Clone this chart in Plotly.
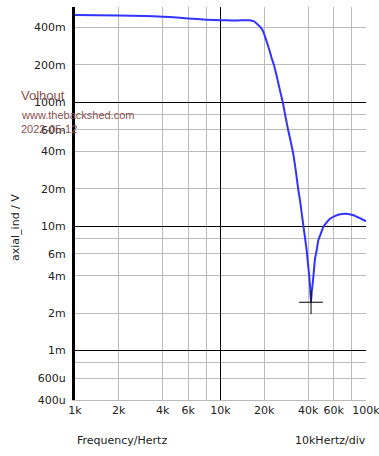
import math
import plotly.graph_objects as go

# ---- data ----
freq_hz = [1000, 2000, 3000, 4000, 5000, 6000, 8000, 10000, 12000, 14000, 15900,
           17000, 17700, 18700, 19700, 20800, 21700, 22500, 23300, 24400, 25600,
           26800, 28000, 29200, 30400, 31600, 33000, 34300, 35200, 36000, 37100,
           38100, 39100, 40000, 40800, 41400, 41900, 42400, 43000, 43800, 44600,
           45800, 47000, 49000, 50900, 53500, 56600, 61000, 66300, 75500, 82000,
           90000, 100000]
axial_ind_v = [0.503, 0.499, 0.494, 0.488, 0.480, 0.472, 0.462, 0.457, 0.455, 0.456, 0.457,
               0.447, 0.431, 0.405, 0.369, 0.306, 0.262, 0.225, 0.199, 0.160, 0.125,
               0.100, 0.076, 0.0594, 0.048, 0.0386, 0.0275, 0.0195, 0.0162, 0.0132, 0.0102,
               0.0081, 0.0064, 0.0049, 0.0039, 0.0031, 0.00245, 0.0030, 0.00345, 0.00433, 0.00549,
               0.0064, 0.00774, 0.0088, 0.00987, 0.0107, 0.0115, 0.0121, 0.0125, 0.0126, 0.0123,
               0.0117, 0.0110]

cursor_f = [41900]
cursor_v = [0.00245]

x_tickvals = [1e3, 2e3, 4e3, 6e3, 8e3, 1e4, 2e4, 4e4, 6e4, 8e4, 1e5]
x_ticktext = ["1k", "2k", "4k", "6k", "", "10k", "20k", "40k", "60k", "", "100k"]
y_tickvals = [4e-4, 6e-4, 8e-4, 1e-3, 2e-3, 4e-3, 6e-3, 8e-3, 1e-2, 2e-2, 4e-2, 6e-2, 8e-2, 0.1, 0.2, 0.4]
y_ticktext = ["400u", "600u", "", "1m", "2m", "4m", "6m", "", "10m", "20m", "40m", "60m", "", "100m", "200m", "400m"]
x_decades = [1e3, 1e4, 1e5]
y_decades = [1e-3, 1e-2, 1e-1]

x_range = [1e3, 1e5]
y_range = [4e-4, 0.584]
xr = [math.log10(x_range[0]), math.log10(x_range[1])]
yr = [math.log10(y_range[0]), math.log10(y_range[1])]

fig = go.Figure()
fig.add_trace(go.Scatter(x=freq_hz, y=axial_ind_v, mode="lines",
                         line=dict(color="#3333ff", width=2, shape="spline", smoothing=0.3),
                         hoverinfo="skip", showlegend=False))
fig.add_trace(go.Scatter(x=cursor_f, y=cursor_v, mode="markers", xaxis="x2", yaxis="y2",
                         marker=dict(symbol="cross-thin", size=17, line=dict(color="black", width=1)),
                         showlegend=False, hoverinfo="skip"))

tickfont = dict(family="DejaVu Sans", size=11, color="#222222")
fig.update_layout(
    xaxis=dict(type="log", range=xr, tickvals=x_tickvals, ticktext=x_ticktext, tickfont=tickfont,
               showgrid=True, gridcolor="#bbbbbb", gridwidth=1, zeroline=False,
               showline=True, linecolor="#bbbbbb", linewidth=1, ticks="",
               ticklabeloverflow="allow"),
    yaxis=dict(type="log", range=yr, tickvals=y_tickvals, ticktext=y_ticktext, tickfont=tickfont,
               showgrid=True, gridcolor="#bbbbbb", gridwidth=1, zeroline=False,
               showline=True, linecolor="black", linewidth=3,
               ticks="outside", ticklen=4, tickcolor="rgba(0,0,0,0)"),
    xaxis2=dict(type="log", range=xr, overlaying="x", anchor="y2", tickvals=x_decades,
                showticklabels=False, showgrid=True, gridcolor="black", gridwidth=1,
                zeroline=False, showline=False, ticks=""),
    yaxis2=dict(type="log", range=yr, overlaying="y", anchor="x2", tickvals=y_decades,
                showticklabels=False, showgrid=True, gridcolor="black", gridwidth=1,
                zeroline=False, showline=False, ticks=""),
)

W, H = 379, 456
L, R, T, B = 75, 13, 7, 56
pw, ph = W - L - R, H - T - B

def px(xp):
    return (xp - L) / pw

def py(yp):
    return (H - B - yp) / ph

ann_color = "#8a4f4f"
annotations = [
    dict(text="Volhout", x=px(19), y=py(95), xref="paper", yref="paper", xanchor="left", yanchor="middle",
         showarrow=False, font=dict(family="Liberation Sans", size=13, color=ann_color)),
    dict(text="www.thebackshed.com", x=px(19), y=py(115), xref="paper", yref="paper", xanchor="left",
         yanchor="middle", showarrow=False, font=dict(family="Liberation Sans", size=11, color=ann_color)),
    dict(text="2022-05-12", x=px(19), y=py(129), xref="paper", yref="paper", xanchor="left",
         yanchor="middle", showarrow=False, font=dict(family="Liberation Sans", size=11, color=ann_color)),
    dict(text="axial_ind / V", x=px(15), y=py(228), xref="paper", yref="paper", xanchor="center",
         yanchor="middle", textangle=-90, showarrow=False,
         font=dict(family="DejaVu Sans", size=11, color="#222222")),
    dict(text="Frequency/Hertz", x=px(75), y=py(440), xref="paper", yref="paper", xanchor="left",
         yanchor="middle", showarrow=False, font=dict(family="DejaVu Sans", size=11, color="#222222")),
    dict(text="10kHertz/div", x=px(368), y=py(440), xref="paper", yref="paper", xanchor="right",
         yanchor="middle", showarrow=False, font=dict(family="DejaVu Sans", size=11, color="#222222")),
]

fig.update_layout(width=W, height=H, margin=dict(l=L, r=R, t=T, b=B, autoexpand=False),
                  plot_bgcolor="white", paper_bgcolor="white", annotations=annotations,
                  showlegend=False)

fig.write_html("out.html", config={"displayModeBar": False},
               post_script="document.body.style.margin='0';document.body.style.overflow='hidden';")
